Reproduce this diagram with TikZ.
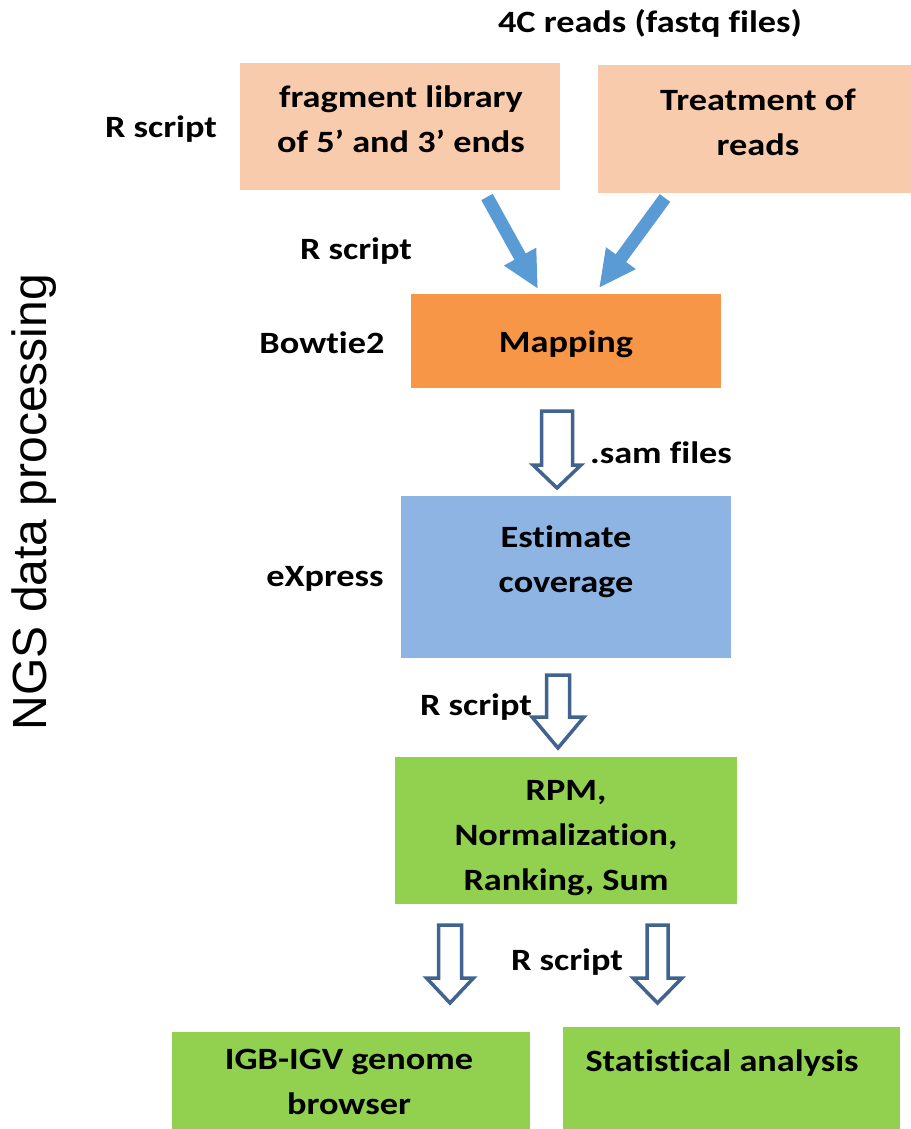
\documentclass[tikz,border=0pt]{standalone}
\usepackage{fontspec}
\setmainfont{Carlito}[FakeStretch=1.17,Ligatures=NoCommon]
\newfontfamily\arialfont{Liberation Sans}
\usetikzlibrary{arrows.meta,calc}
\definecolor{peach}{HTML}{F8CBAD}
\definecolor{orangebox}{HTML}{F79646}
\definecolor{bluebox}{HTML}{8DB4E2}
\definecolor{greenbox}{HTML}{92D050}
\definecolor{arrowblue}{HTML}{5B9BD5}
\definecolor{arrowline}{HTML}{41648F}
\tikzset{
	box/.style={fill=#1, inner sep=0pt},
	txt/.style={font=\bfseries\fontsize{31}{45}\selectfont, align=center, inner sep=0pt},
	fat/.style={draw=arrowblue, line width=13pt, -{Triangle[width=34pt,length=37pt]}},
	hollow/.style={draw=arrowline, fill=white, line width=3.5pt, line join=miter}
}
% top, tip, shaft half width, head half width, head length
\newcommand{\hollowarrow}[5]{%
	\draw[hollow] let \p1=(#1), \p2=(#2) in
	(\x1-#3,\y1) -- (\x1+#3,\y1) -- (\x1+#3,\y2+#5) -- (\x1+#4,\y2+#5) -- (\x2,\y2)
	-- (\x1-#4,\y2+#5) -- (\x1-#3,\y2+#5) -- cycle;}
\begin{document}
\begin{tikzpicture}[x=1pt,y=-1pt]
	\useasboundingbox (0,0) rectangle (910,1129);
	% boxes
	\node[box=peach, minimum width=320pt, minimum height=127pt] at (400,126.5) (frag) {};
	\node[box=peach, minimum width=313pt, minimum height=128pt] at (754.5,129) (treat) {};
	\node[box=orangebox, minimum width=310pt, minimum height=94pt] at (566,341) (map) {};
	\node[box=bluebox, minimum width=330pt, minimum height=162pt] at (566,577) (est) {};
	\node[box=greenbox, minimum width=342pt, minimum height=147pt] at (566,830.5) (rpm) {};
	\node[box=greenbox, minimum width=358pt, minimum height=104pt] at (351,1084) (igb) {};
	\node[box=greenbox, minimum width=337pt, minimum height=108pt] at (731.5,1081) (stat) {};
	% box texts
	\node[txt] at (401,119) (fragtxt) {fragment library\\of 5’ and 3’ ends};
	\node[txt] at (758,122) (treattxt) {Treatment of\\reads};
	\node[txt] at (566,344) (maptxt) {Mapping};
	\node[txt] at (566,562) (esttxt) {Estimate\\coverage};
	\node[txt] at (566,838) (rpmtxt) {RPM,\\Normalization,\\Ranking, Sum};
	\node[txt] at (349,1082) (igbtxt) {IGB-IGV genome\\browser};
	\node[txt, anchor=base] at (722,1071) (stattxt) {Statistical analysis};
	% side labels
	\node[txt, anchor=base] at (650,33) (reads) {4C reads (fastq files)};
	\node[txt, anchor=base] at (161,138) (rlib) {R script};
	\node[txt, anchor=base] at (356,259) (rmap) {R script};
	\node[txt, anchor=base] at (322,353) (bowtie) {Bowtie2};
	\node[txt, anchor=base] at (661,463) (sam) {.sam files};
	\node[txt, anchor=base] at (325,586) (express) {eXpress};
	\node[txt, anchor=base] at (476,715) (rnorm) {R script};
	\node[txt, anchor=base] at (567,970) (rout) {R script};
	\node[font=\arialfont\fontsize{48}{56}\selectfont, rotate=90, anchor=base, inner sep=0pt] at (46,502) (ngs) {NGS data processing};
	% arrows
	\coordinate (fragout) at (487,197);
	\coordinate (mapin1) at (538,289);
	\coordinate (treatout) at (665,198);
	\coordinate (mapin2) at (599,288);
	\draw[fat] (fragout) -- (mapin1);
	\draw[fat] (treatout) -- (mapin2);
	\coordinate (mapout) at (557,411);
	\coordinate (estin) at (557,488);
	\coordinate (estout) at (558,675);
	\coordinate (rpmin) at (558,748);
	\coordinate (rpmout1) at (450,925);
	\coordinate (igbin) at (450,1003);
	\coordinate (rpmout2) at (657.5,925);
	\coordinate (statin) at (657.5,1003);
	\hollowarrow{mapout}{estin}{15.5pt}{24pt}{23pt}
	\hollowarrow{estout}{rpmin}{11.5pt}{26pt}{31pt}
	\hollowarrow{rpmout1}{igbin}{11.5pt}{23.5pt}{25pt}
	\hollowarrow{rpmout2}{statin}{10.5pt}{24.5pt}{25pt}
\end{tikzpicture}
\end{document}
